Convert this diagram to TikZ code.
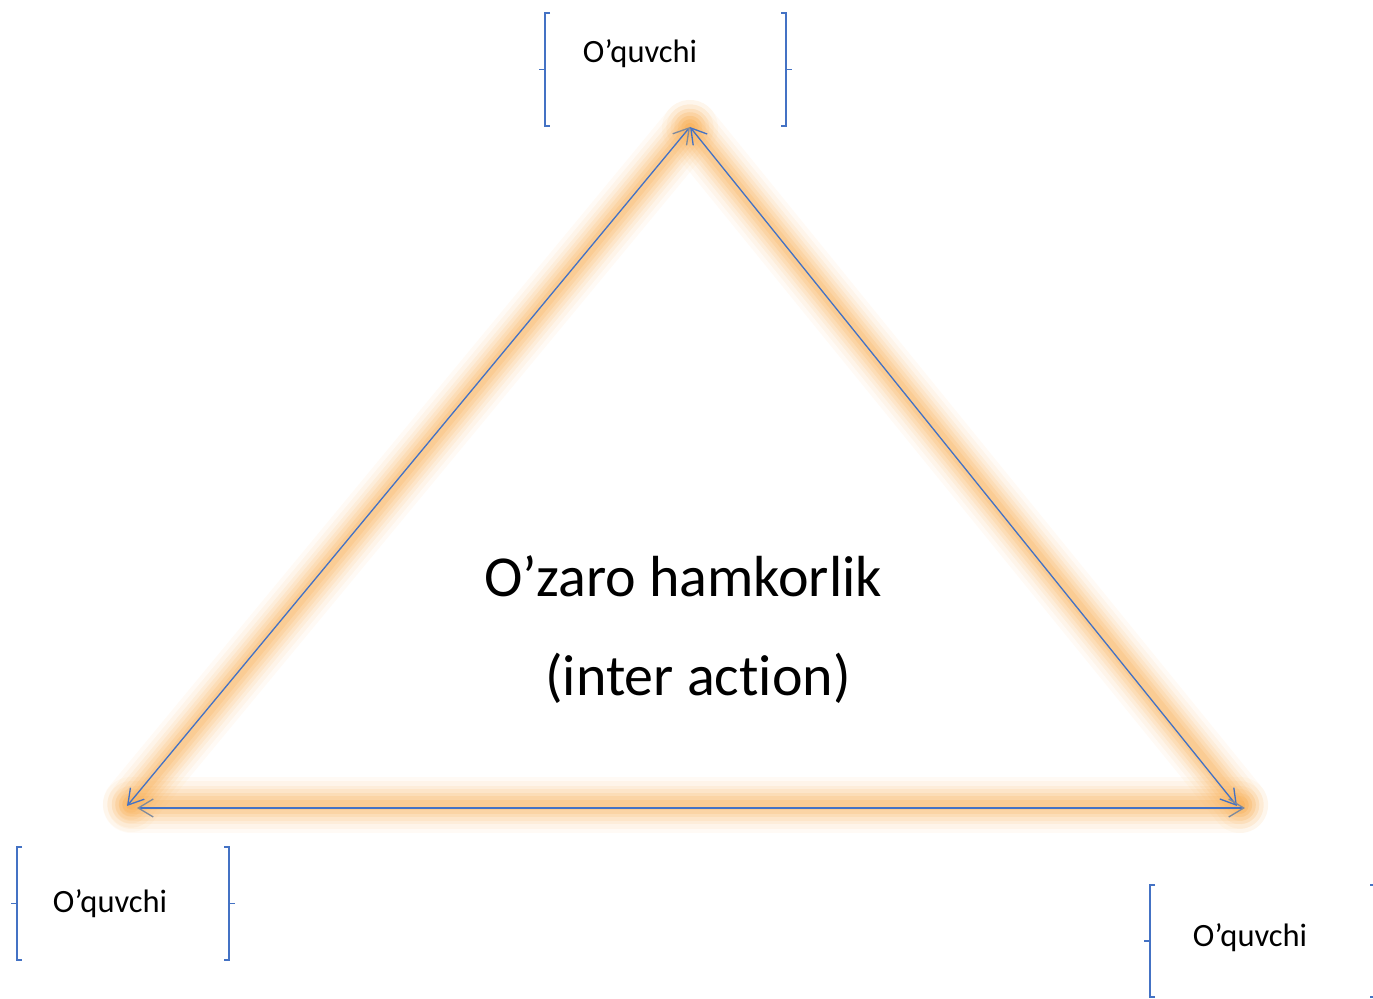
\documentclass[tikz,border=0pt]{standalone}
\usepackage{fontspec}
\setmainfont[Ligatures={NoCommon,NoContextual,NoRare}]{Carlito}
\usepackage{tikz}
\usetikzlibrary{arrows.meta}
\definecolor{edge}{HTML}{4472C4}
\definecolor{tipgray}{HTML}{7F8A9C}
\definecolor{glow}{HTML}{F7A541}
\definecolor{text}{HTML}{000000}
\tikzset{
  link/.style={line width=0.75pt, draw=edge},
  halo/.style={draw=glow, line cap=round, line join=round},
  bracketline/.style={draw=edge, line width=0.8pt},
  pupil/.style={font=\fontsize{18.5}{22}\selectfont, text=text, inner sep=0pt},
  title/.style={font=\fontsize{33}{40}\selectfont, text=text, inner sep=0pt}
}

\begin{document}
\begin{tikzpicture}[x=0.02cm,y=-0.02cm]
        \useasboundingbox (0,0) rectangle (1373,999);

        % corners of the triangle
        \coordinate (apex) at (690,127);
        \coordinate (left) at (127,806);
        \coordinate (right) at (1237,806);
        \coordinate (baseL) at (137,808);
        \coordinate (baseR) at (1245,808);

        % soft glow along the sides
        \foreach \w/\o in {32/0.05,27/0.07,22/0.09,18/0.11,14/0.13,10/0.15,6/0.17} {
          \draw[halo,line width=\w pt,opacity=\o] (131,804) -- (690,128);
          \draw[halo,line width=\w pt,opacity=\o] (690,128) -- (1240,805);
          \draw[halo,line width=\w pt,opacity=\o] (131,805) -- (1240,805);
        }

        % two-way links
        \draw[link,{Straight Barb[length=3mm,width=3.6mm,color=tipgray]}-{Straight Barb[length=3mm,width=3.6mm]}] (apex) -- (left);
        \draw[link,{Straight Barb[length=3mm,width=3.6mm]}-{Straight Barb[length=3mm,width=3.6mm]}] (apex) -- (right);
        \draw[link,{Straight Barb[length=3mm,width=3.6mm,color=tipgray]}-{Straight Barb[length=3mm,width=3.6mm,color=tipgray]}] (baseL) -- (baseR);

        \node[title] (inter) at (683,576) {O’zaro hamkorlik};
        \node[title] (action) at (698,678) {(inter action)};

        \node[pupil] (pupilT) at (640,54) {O’quvchi};
        \node[pupil] (pupilL) at (110,904) {O’quvchi};
        \node[pupil] (pupilR) at (1250,938) {O’quvchi};

        % bracket pairs round the pupils
        \foreach \xa/\xb/\ya/\yb in {545/786/13/126, 17/229/847/960, 1150/1375/885/997} {
          \draw[bracketline] (\xa+5,\ya) -- (\xa,\ya) -- (\xa,\yb) -- (\xa+5,\yb);
          \draw[bracketline] (\xa,{(\ya+\yb)/2}) -- (\xa-6,{(\ya+\yb)/2});
          \draw[bracketline] (\xb-5,\ya) -- (\xb,\ya) -- (\xb,\yb) -- (\xb-5,\yb);
          \draw[bracketline] (\xb,{(\ya+\yb)/2}) -- (\xb+6,{(\ya+\yb)/2});
        }
      \end{tikzpicture}
\end{document}
